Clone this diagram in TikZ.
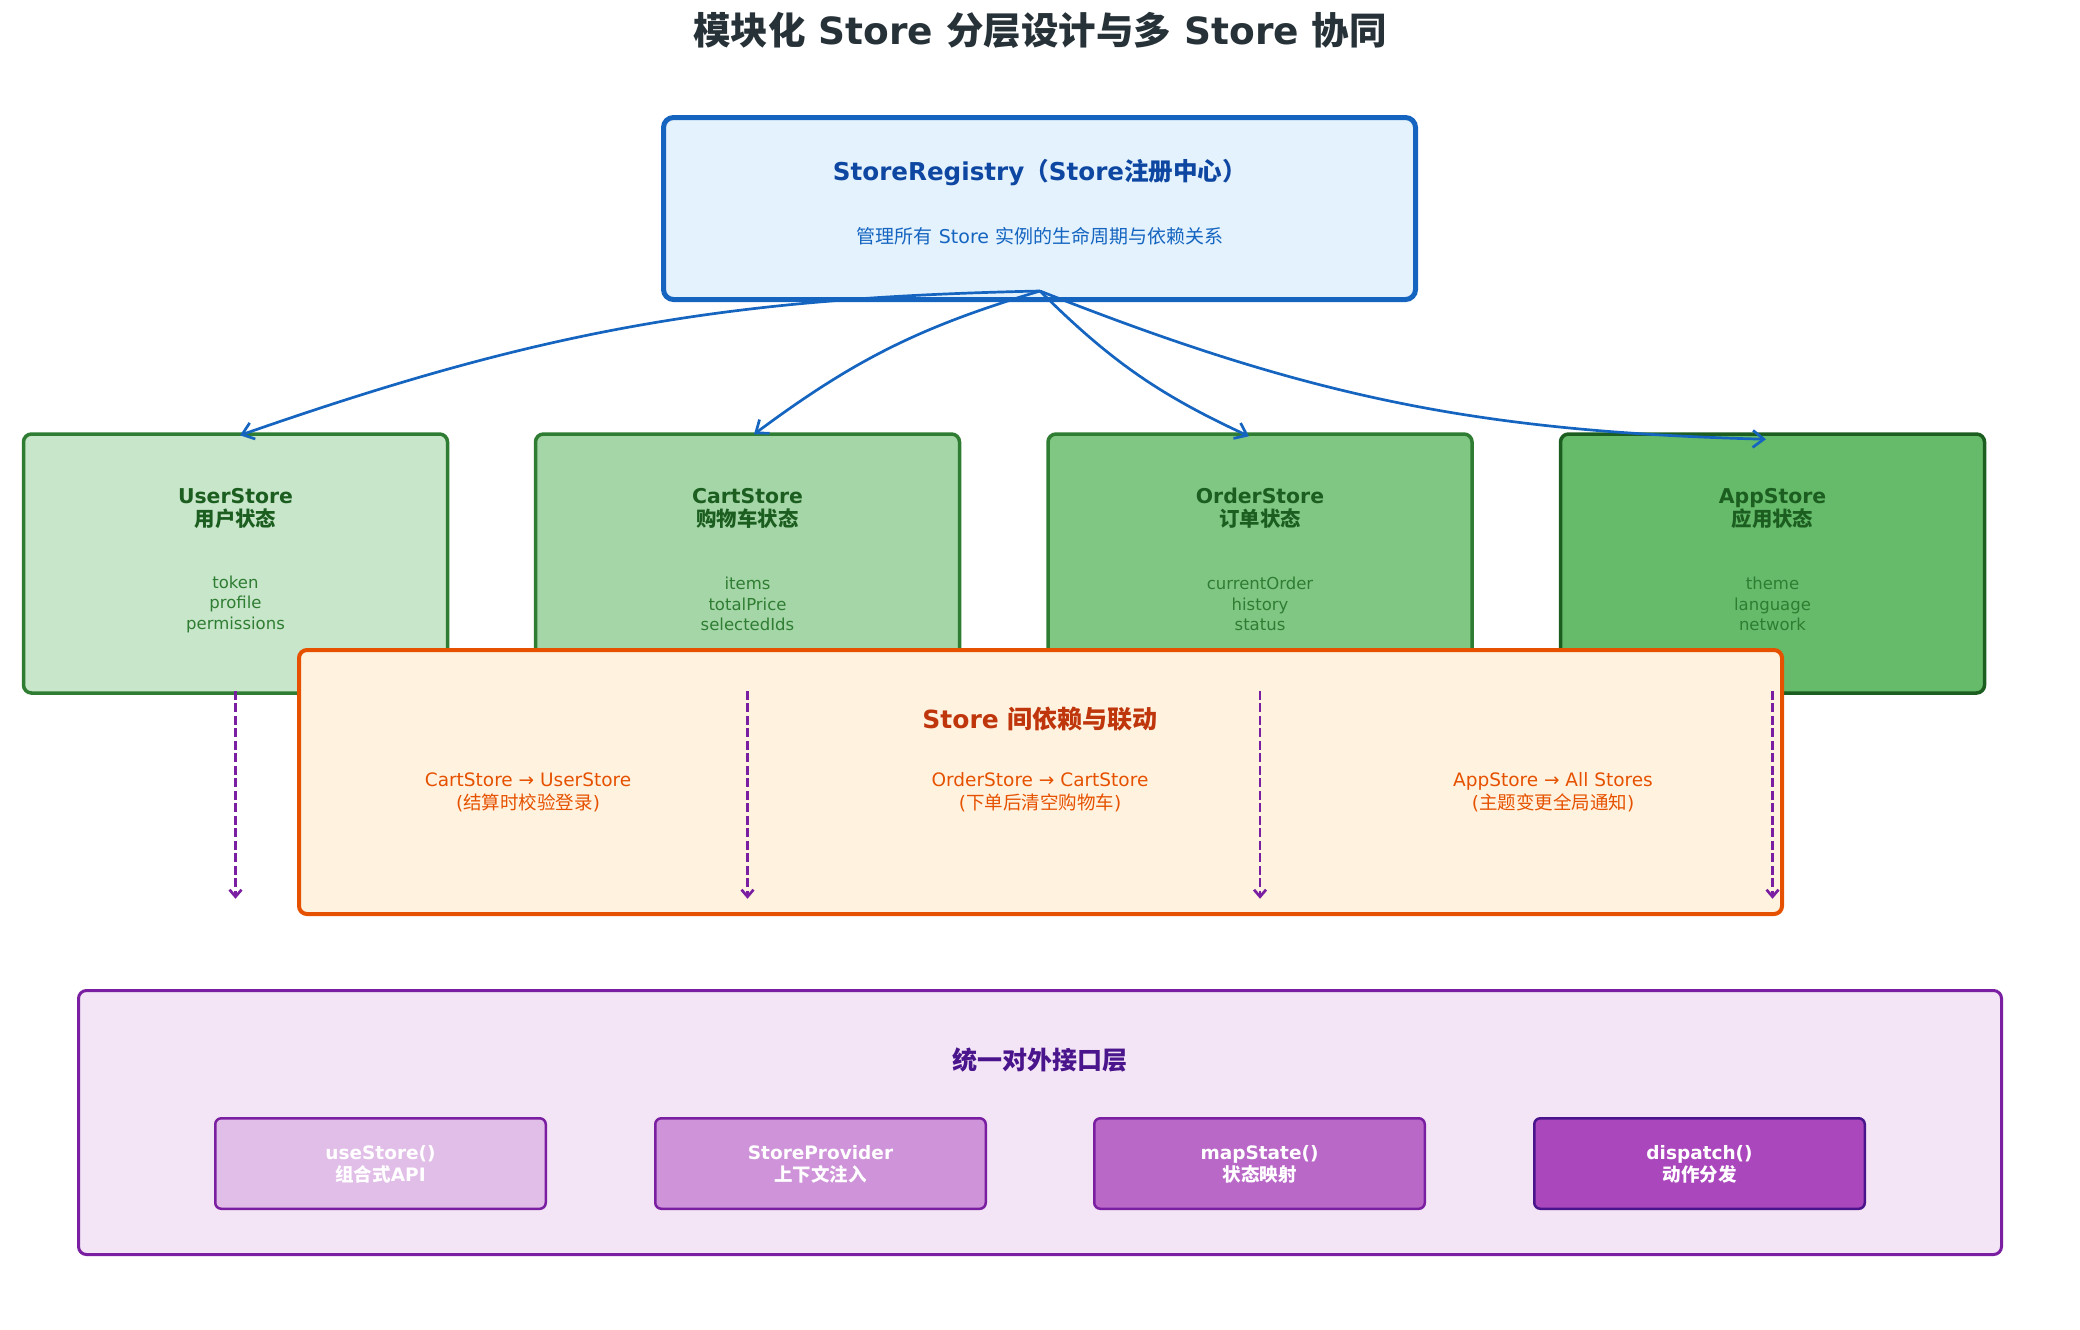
\documentclass[tikz,border=0pt]{standalone}
\usepackage{fontspec}
\setmainfont{DejaVu Sans}
\newfontfamily\cjk{Noto Sans CJK SC}
\newcommand{\zh}[1]{{\cjk #1}}
\usetikzlibrary{arrows.meta,calc}
\definecolor{titleC}{HTML}{263238}
\definecolor{regB}{HTML}{1565C0}
\definecolor{regF}{HTML}{E3F2FD}
\definecolor{regT}{HTML}{0D47A1}
\definecolor{gB}{HTML}{2E7D32}
\definecolor{gBd}{HTML}{1B5E20}
\definecolor{gF1}{HTML}{C8E6C9}
\definecolor{gF2}{HTML}{A5D6A7}
\definecolor{gF3}{HTML}{81C784}
\definecolor{gF4}{HTML}{66BB6A}
\definecolor{oB}{HTML}{E65100}
\definecolor{oF}{HTML}{FFF3E0}
\definecolor{oT}{HTML}{BF360C}
\definecolor{pB}{HTML}{7B1FA2}
\definecolor{pBd}{HTML}{4A148C}
\definecolor{pF}{HTML}{F3E5F5}
\definecolor{pF1}{HTML}{E1BEE7}
\definecolor{pF2}{HTML}{CE93D8}
\definecolor{pF3}{HTML}{BA68C8}
\definecolor{pF4}{HTML}{AB47BC}
\tikzset{
  box/.style={draw, rounded corners=4pt, inner sep=0pt},
  regbox/.style={box, draw=regB, fill=regF, line width=2.5pt, rounded corners=5pt, minimum width=376pt, minimum height=91pt},
  storebox/.style={box, draw=gB, line width=1.75pt, minimum width=212pt, minimum height=129.5pt},
  depbox/.style={box, draw=oB, fill=oF, line width=2pt, minimum width=741.5pt, minimum height=132pt},
  apibox/.style={box, draw=pB, fill=pF, line width=1.5pt, minimum width=961.5pt, minimum height=132pt},
  subbox/.style={box, draw=pB, line width=1.25pt, rounded corners=3pt, minimum width=165.25pt, minimum height=45.25pt},
  txt/.style={inner sep=0pt, align=center},
  storetitle/.style={txt, text=gBd, font={\fontsize{10.2pt}{11.5pt}\selectfont\bfseries}},
  fields/.style={txt, text=gB, font={\fontsize{8.25pt}{10.25pt}\selectfont}},
  depitem/.style={txt, text=oB, font={\fontsize{9.25pt}{11.5pt}\selectfont}},
  subtxt/.style={txt, text=white, font={\fontsize{9.25pt}{11pt}\selectfont\bfseries}},
  regarrow/.style={draw=regB, line width=1.35pt, -{Straight Barb[length=5.5pt,width=8.5pt]}},
  deparrow/.style={draw=pB, line width=1.35pt, dash pattern=on 4.5pt off 1.75pt, -{Straight Barb[length=3.5pt,width=6pt]}}
}
\begin{document}
\begin{tikzpicture}[x=0.5pt,y=-0.5pt]
\useasboundingbox (0,0) rectangle (2080,1329);

% title
\node[txt, text=titleC, font={\fontsize{18.75pt}{22pt}\selectfont\bfseries}] (title) at (1040,30)
  {\zh{模块化} Store \zh{分层设计与多} Store \zh{协同}};

% registry
\node[regbox] (reg) at (1039.5,208.5) {};
\node[txt, text=regT, font={\fontsize{12.3pt}{14pt}\selectfont\bfseries}] (regt) at (1040,173)
  {StoreRegistry\zh{（}Store\zh{注册中心）}};
\node[txt, text=regB, font={\fontsize{9.5pt}{12pt}\selectfont}] (regs) at (1040,236)
  {\zh{管理所有} Store \zh{实例的生命周期与依赖关系}};

% store boxes
\node[storebox, fill=gF1] (user) at (235.5,563.5) {};
\node[storebox, fill=gF2] (cart) at (747.5,563.5) {};
\node[storebox, fill=gF3] (order) at (1260,563.5) {};
\node[storebox, fill=gF4, draw=gBd] (app) at (1772.5,563.5) {};

\node[storetitle] (usert) at (235.5,508) {UserStore\\\zh{用户状态}};
\node[storetitle] (cartt) at (747.5,508) {CartStore\\\zh{购物车状态}};
\node[storetitle] (ordert) at (1260,508) {OrderStore\\\zh{订单状态}};
\node[storetitle] (appt) at (1772.5,508) {AppStore\\\zh{应用状态}};

\node[fields] (userf) at (235.5,604) {token\\profile\\permissions};
\node[fields] (cartf) at (747.5,604) {items\\totalPrice\\selectedIds};
\node[fields] (orderf) at (1260,604) {currentOrder\\history\\status};
\node[fields] (appf) at (1772.5,604) {theme\\language\\network};

% registry arrows
\coordinate (src) at ($(reg.south)+(0.5,-11)$);
\coordinate (uin) at ($(user.north)+(4.5,3)$);
\coordinate (cin) at ($(cart.north)+(6.5,2)$);
\coordinate (oin) at ($(order.north)+(-11,4)$);
\coordinate (ain) at ($(app.north)+(-6.5,7)$);
\draw[regarrow] (src) to[bend right=9] (uin);
\draw[regarrow] (src) to[bend right=10] (cin);
\draw[regarrow] (src) to[bend right=10] (oin);
\draw[regarrow] (src) to[bend right=10] (ain);

% dependency box
\node[depbox] (dep) at (1040.5,782) {};
\node[txt, text=oT, font={\fontsize{12.5pt}{15pt}\selectfont\bfseries}] (dept) at (1040,719)
  {Store \zh{间依赖与联动}};
\node[depitem] (dep1) at (528,792) {CartStore → UserStore\\(\zh{结算时校验登录})};
\node[depitem] (dep2) at (1040,792) {OrderStore → CartStore\\(\zh{下单后清空购物车})};
\node[depitem] (dep3) at (1553,792) {AppStore → All Stores\\(\zh{主题变更全局通知})};

% dashed arrows
\foreach \s/\n in {user/a, cart/b, order/c, app/d}{
  \coordinate (\n0) at ($(\s.south)+(0,-4)$);
  \coordinate (\n1) at ($(\s.south)+(0,204)$);
  \draw[deparrow] (\n0) -- (\n1);
}

% api layer
\node[apibox] (api) at (1040,1122.5) {};
\node[txt, text=pBd, font={\fontsize{12.5pt}{15pt}\selectfont\bfseries}] (apit) at (1040,1060)
  {\zh{统一对外接口层}};
\node[subbox, fill=pF1] (s1) at (380.5,1163.5) {};
\node[subbox, fill=pF2] (s2) at (820.5,1163.5) {};
\node[subbox, fill=pF3] (s3) at (1259.5,1163.5) {};
\node[subbox, fill=pF4, draw=pBd] (s4) at (1699.5,1163.5) {};
\node[subtxt] (s1t) at (380.5,1164) {useStore()\\\zh{组合式}API};
\node[subtxt] (s2t) at (820.5,1164) {StoreProvider\\\zh{上下文注入}};
\node[subtxt] (s3t) at (1259.5,1164) {mapState()\\\zh{状态映射}};
\node[subtxt] (s4t) at (1699.5,1164) {dispatch()\\\zh{动作分发}};
\end{tikzpicture}
\end{document}
